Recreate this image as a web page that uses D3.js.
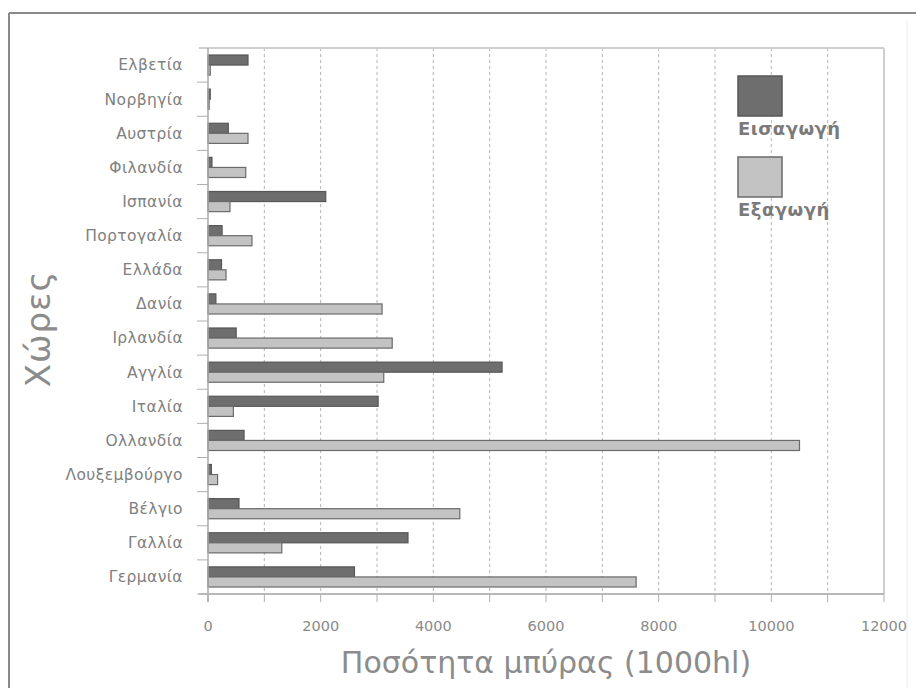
<!DOCTYPE html>
<html>
<head>
<meta charset="utf-8">
<script src="https://cdn.jsdelivr.net/npm/d3@7"></script>
<style>
  html, body { margin: 0; padding: 0; background: #fff; }
  svg { display: block; }
  text { font-family: "DejaVu Sans", "Noto Sans", sans-serif; }
</style>
</head>
<body>
<svg id="chart" width="916" height="688"></svg>
<script>
// Beer trade by country (thousand hectolitres)
const countries = ["Ελβετία", "Νορβηγία", "Αυστρία", "Φιλανδία", "Ισπανία", "Πορτογαλία",
  "Ελλάδα", "Δανία", "Ιρλανδία", "Αγγλία", "Ιταλία", "Ολλανδία", "Λουξεμβούργο",
  "Βέλγιο", "Γαλλία", "Γερμανία"];
const imports = [710, 40, 360, 70, 2090, 250, 240, 140, 500, 5220, 3020, 640, 60, 550, 3550, 2600];
const exports = [40, 20, 710, 670, 390, 780, 320, 3090, 3270, 3120, 450, 10500, 170, 4470, 1310, 7600];
const seriesNames = ["Εισαγωγή", "Εξαγωγή"];
const xTicks = [0, 2000, 4000, 6000, 8000, 10000, 12000];
const xMinorTicks = d3.range(0, 12001, 1000);

const colors = { "Εισαγωγή": "#6e6e6e", "Εξαγωγή": "#c3c3c3" };
const strokes = { "Εισαγωγή": "#575757", "Εξαγωγή": "#6a6a6a" };

const svg = d3.select("#chart");
const plotL = 208, plotR = 884, plotT = 48, plotB = 594;

// outer frame
svg.append("line").attr("x1", 907).attr("x2", 907).attr("y1", 20).attr("y2", 688)
  .attr("stroke", "#ececec").attr("stroke-width", 1);
svg.append("line").attr("x1", 9).attr("x2", 916).attr("y1", 13).attr("y2", 13)
  .attr("stroke", "#8a8a8a").attr("stroke-width", 2);
svg.append("line").attr("x1", 9).attr("x2", 9).attr("y1", 13).attr("y2", 688)
  .attr("stroke", "#8a8a8a").attr("stroke-width", 2);

const x = d3.scaleLinear().domain([0, 12000]).range([plotL, plotR]);
const y = d3.scaleBand().domain(countries).range([plotT, plotB])
  .paddingInner(0.41).paddingOuter(0.205);
const ySub = d3.scaleBand().domain(seriesNames).range([0, y.bandwidth()]);

// dashed vertical gridlines
svg.append("g").selectAll("line")
  .data(xMinorTicks.filter(d => d > 0 && d < 12000))
  .join("line")
  .attr("x1", d => x(d)).attr("x2", d => x(d))
  .attr("y1", plotT).attr("y2", plotB)
  .attr("stroke", "#b4b4b4").attr("stroke-width", 1)
  .attr("stroke-dasharray", "3,3");

// plot border (top and right)
svg.append("line").attr("x1", 199).attr("x2", plotR).attr("y1", plotT).attr("y2", plotT)
  .attr("stroke", "#cfcfcf").attr("stroke-width", 2);
svg.append("line").attr("x1", plotR).attr("x2", plotR).attr("y1", plotT).attr("y2", plotB)
  .attr("stroke", "#cfcfcf").attr("stroke-width", 2);

// bars
const rows = countries.map((c, i) => ({ country: c, values: [
  { key: seriesNames[0], value: imports[i] },
  { key: seriesNames[1], value: exports[i] }
]}));

const groups = svg.append("g").selectAll("g")
  .data(rows).join("g")
  .attr("transform", d => `translate(0,${y(d.country)})`);

groups.selectAll("rect")
  .data(d => d.values).join("rect")
  .attr("x", x(0))
  .attr("y", d => ySub(d.key))
  .attr("width", d => x(d.value) - x(0))
  .attr("height", ySub.bandwidth())
  .attr("fill", d => colors[d.key])
  .attr("stroke", d => strokes[d.key])
  .attr("stroke-width", 1.2);

// y axis: category labels and separators
const yAxis = svg.append("g");
yAxis.append("line").attr("x1", plotL).attr("x2", plotL).attr("y1", plotT).attr("y2", plotB + 8)
  .attr("stroke", "#a8a8a8").attr("stroke-width", 1.5);
const boundaries = d3.range(1, countries.length + 1).map(i => plotT + i * y.step());
yAxis.selectAll("line.sep").data(boundaries).join("line")
  .attr("class", "sep")
  .attr("x1", 197).attr("x2", plotL)
  .attr("y1", d => d).attr("y2", d => d)
  .attr("stroke", "#b0b0b0").attr("stroke-width", 1);
yAxis.selectAll("text").data(countries).join("text")
  .attr("x", 183)
  .attr("y", d => y(d) + y.bandwidth() / 2)
  .attr("dy", "0.35em")
  .attr("text-anchor", "end")
  .attr("font-size", 15.5)
  .attr("letter-spacing", 0.4)
  .attr("fill", "#808080")
  .text(d => d);

// x axis
const xAxis = svg.append("g").attr("transform", `translate(0,${plotB})`);
xAxis.append("line").attr("x1", 199).attr("x2", plotR).attr("y1", 0).attr("y2", 0)
  .attr("stroke", "#b8b8b8").attr("stroke-width", 2);
xAxis.selectAll("line.tick").data(xMinorTicks).join("line")
  .attr("class", "tick")
  .attr("x1", d => x(d)).attr("x2", d => x(d))
  .attr("y1", 0).attr("y2", 8)
  .attr("stroke", "#b0b0b0").attr("stroke-width", 1);
xAxis.selectAll("text").data(xTicks).join("text")
  .attr("x", d => x(d))
  .attr("y", 37)
  .attr("text-anchor", "middle")
  .attr("font-size", 14.5)
  .attr("fill", "#8a8a8a")
  .text(d => d);

// axis titles
svg.append("text")
  .attr("x", (plotL + plotR) / 2).attr("y", 673)
  .attr("text-anchor", "middle")
  .attr("font-size", 30)
  .attr("fill", "#8c8c8c")
  .text("Ποσότητα μπύρας (1000hl)");
svg.append("text")
  .attr("transform", `translate(50,${(plotT + plotB) / 2 + 8}) rotate(-90)`)
  .attr("text-anchor", "middle")
  .attr("font-size", 34)
  .attr("letter-spacing", 1)
  .attr("fill", "#8c8c8c")
  .text("Χώρες");

// legend
const legend = svg.append("g");
const legendRows = [
  { key: seriesNames[0], y: 76 },
  { key: seriesNames[1], y: 157 }
];
legend.selectAll("rect").data(legendRows).join("rect")
  .attr("x", 738).attr("y", d => d.y)
  .attr("width", 44).attr("height", 40)
  .attr("fill", d => colors[d.key])
  .attr("stroke", d => strokes[d.key]).attr("stroke-width", 1.5);
legend.selectAll("text").data(legendRows).join("text")
  .attr("x", 738).attr("y", d => d.y + 59)
  .attr("font-size", 18)
  .attr("font-weight", "bold")
  .attr("letter-spacing", 0.5)
  .attr("fill", "#7a7a7a")
  .text(d => d.key);
</script>
</body>
</html>
